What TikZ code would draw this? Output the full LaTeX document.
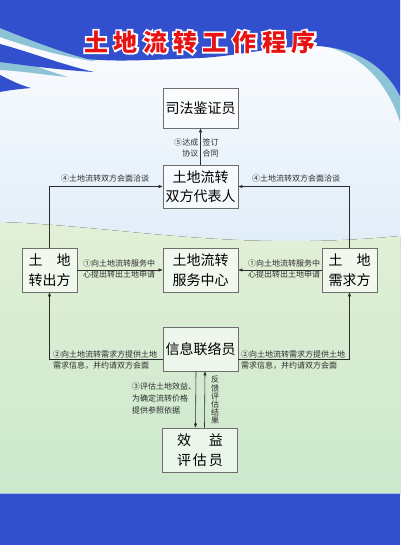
\documentclass[tikz,border=0pt]{standalone}
\usepackage{fontspec}
\newfontfamily\cjk{Noto Sans CJK SC}
\usetikzlibrary{arrows.meta,calc}
\definecolor{bluebg}{RGB}{50,80,205}
\definecolor{lstripe}{RGB}{140,195,215}
\definecolor{skyl}{RGB}{224,237,248}
\definecolor{grnA}{RGB}{226,240,214}
\definecolor{grnB}{RGB}{203,232,205}
\definecolor{boxgray}{RGB}{110,110,110}
\definecolor{linec}{RGB}{45,45,45}
\definecolor{titlered}{RGB}{232,18,18}
\newcommand\mytitlestr{\makebox[29.7pt]{土}\makebox[29.7pt]{地}\makebox[29.7pt]{流}\makebox[29.7pt]{转}\makebox[29.7pt]{工}\makebox[29.7pt]{作}\makebox[29.7pt]{程}\makebox[29.7pt]{序}}
\tikzset{
  boxnode/.style={draw=boxgray, line width=0.8pt, fill=white, fill opacity=0.6, text opacity=1,
    minimum width=75pt, minimum height=44pt, inner sep=0pt, align=center,
    font=\cjk\fontsize{14}{19.5}\selectfont, text=black},
  smallbox/.style={boxnode, minimum width=55pt},
  arr/.style={draw=linec, line width=0.6pt, -{Triangle[length=4pt,width=3pt]}},
  lbl/.style={inner sep=0pt, text=linec, font=\cjk\fontsize{8}{11}\selectfont},
  ttl/.style={inner sep=0pt, font=\cjk\bfseries\fontsize{24}{24}\selectfont}
}
\begin{document}
\begin{tikzpicture}[x=1pt,y=-1pt]
\useasboundingbox (0,0) rectangle (400,545);
% background
\fill[top color=white, bottom color=skyl] (0,0) rectangle (400,245);
\fill[top color=grnA, bottom color=grnB] (0,222) .. controls (120,226) and (230,252) .. (400,236) -- (400,495) -- (0,495) -- cycle;
\fill[bluebg] (0,493) rectangle (400,545);
\draw[white!60!bluebg, line width=1pt] (0,493.5) -- (400,493.5);
% top waves
\fill[lstripe] (0,0) -- (400,0) -- (400,122) .. controls (388,84) and (360,50) .. (316,45)
  .. controls (250,40) and (150,48) .. (92,61) .. controls (60,56) and (25,46) .. (0,37) -- cycle;
\fill[bluebg] (0,0) -- (400,0) -- (400,96) .. controls (386,68) and (360,49) .. (318,46)
  .. controls (272,46) and (240,56) .. (200,58) .. controls (150,60) and (115,62) .. (88,59)
  .. controls (60,52) and (25,38) .. (0,28) -- cycle;
\fill[lstripe] (0,55) .. controls (25,62) and (45,70) .. (68,77) .. controls (45,75) and (22,71) .. (0,70) -- cycle;
\fill[bluebg] (0,44) .. controls (30,52) and (60,64) .. (94,72) .. controls (60,70) and (30,66) .. (0,62) -- cycle;
\fill[bluebg] (0,75) .. controls (10,80) and (20,85) .. (31,88) .. controls (20,89) and (10,90) .. (0,92) -- cycle;
% title: white outline behind red text
\node[ttl, text=white, font=\cjk\bfseries\fontsize{24}{24}\selectfont\addfontfeature{FakeBold=14}] (ttlbg) at (200,42) {\mytitlestr};
\node[ttl, text=titlered] (ttl) at (200,42) {\mytitlestr};
% boxes
\node[boxnode, minimum height=40pt] (sifa) at (200.5,108) {司法鉴证员};
\node[boxnode, minimum height=43pt] (daibiao) at (200.5,186.5) {土地流转\\双方代表人};
\node[smallbox] (zhuanchu) at (49.5,270) {\makebox[42pt][s]{土\hfill 地}\\转出方};
\node[boxnode] (fuwu) at (200.5,270) {土地流转\\服务中心};
\node[smallbox] (xuqiu) at (349.5,270) {\makebox[42pt][s]{土\hfill 地}\\需求方};
\node[boxnode] (xinxi) at (200.5,349) {信息联络员};
\node[boxnode] (xiaoyi) at (200,450) {\makebox[46pt][s]{效\hfill 益}\\\makebox[46pt][s]{评\hfill 估\hfill 员}};
% connectors
\draw[arr] (daibiao.north) -- (sifa.south);
\draw[arr] (zhuanchu.north) |- (daibiao.west);
\draw[arr] (xuqiu.north) |- (daibiao.east);
\draw[arr] (zhuanchu.east) -- (fuwu.west);
\draw[arr] (xuqiu.west) -- (fuwu.east);
\draw[arr] ([yshift=-10pt]xinxi.west) -| (zhuanchu.south);
\draw[arr] ([yshift=-10pt]xinxi.east) -| (xuqiu.south);
\draw[arr] ([xshift=-4.5pt]xinxi.south) -- ([xshift=-4.5pt]xiaoyi.north);
\draw[arr] ([xshift=4.5pt]xiaoyi.north) -- ([xshift=4.5pt]xinxi.south);
% labels
\node[lbl, anchor=east, align=right] (l5a) at (198.5,147.5) {⑤达成\\协议};
\node[lbl, anchor=west, align=left] (l5b) at (202.5,147.5) {签订\\合同};
\node[lbl, anchor=south] (l4a) at (105,182.5) {④土地流转双方会面洽谈};
\node[lbl, anchor=south] (l4b) at (296,182.5) {④土地流转双方会面洽谈};
\node[lbl, align=center] (l1a) at (119,268.5) {①向土地流转服务中\\心提出转出土地申请};
\node[lbl, align=center] (l1b) at (284,268.5) {①向土地流转服务中\\心提出转出土地申请};
\node[lbl, anchor=west, align=left] (l2a) at (53,360.5) {②向土地流转需求方提供土地\\需求信息，并约请双方会面};
\node[lbl, anchor=west, align=left] (l2b) at (241,360.5) {②向土地流转需求方提供土地\\需求信息，并约请双方会面};
\node[lbl, anchor=north west, align=left, font=\cjk\fontsize{8}{12}\selectfont] (l3) at (132,383) {③评估土地效益、\\为确定流转价格\\提供参照依据};
\node[lbl, anchor=north, align=center, font=\cjk\fontsize{8}{8.2}\selectfont] (lfb) at (215,376) {反\\馈\\评\\估\\结\\果};
\end{tikzpicture}
\end{document}
